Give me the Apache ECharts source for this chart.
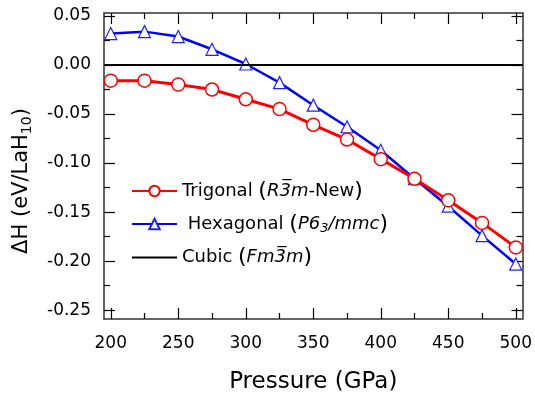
<!DOCTYPE html>
<html><head><meta charset="utf-8">
<script src="https://cdn.jsdelivr.net/npm/echarts@6/dist/echarts.min.js"></script>
<style>html,body{margin:0;padding:0;background:#fff}#c{width:535px;height:399px}</style>
</head><body><div id="c"></div>
<script>
const pressures = [200,225,250,275,300,325,350,375,400,425,450,475,500];
const trigonal = [-0.016,-0.016,-0.020,-0.025,-0.035,-0.045,-0.061,-0.076,-0.096,-0.116,-0.138,-0.161,-0.186];
const hexagonal = [0.032,0.034,0.029,0.016,0.001,-0.018,-0.041,-0.063,-0.087,-0.116,-0.144,-0.174,-0.203];
const cubic = [0,0,0,0,0,0,0,0,0,0,0,0,0];
const xMajorTicks = [200,250,300,350,400,450,500];
const xMinorTicks = [225,275,325,375,425,475];
const yMajorTicks = [-0.25,-0.20,-0.15,-0.10,-0.05,0.00,0.05];
const yMinorTicks = [-0.225,-0.175,-0.125,-0.075,-0.025,0.025];

const FONT = 'DejaVu Sans';
const FRAME = '#333';
function pts(vals){ return pressures.map((p,i)=>[p,vals[i]]); }

function xAx(pos, ticks, len, labels, line){
  return {type:'value', position:pos, min:195, max:505,
    axisLine:{show:line, onZero:false, lineStyle:{color:FRAME, width:1.5}},
    axisTick:{show:true, inside:true, length:len, customValues:ticks, lineStyle:{color:'#000', width:1.2}},
    axisLabel:{show:labels, customValues:ticks, margin:16, fontSize:17, color:'#000', fontFamily:FONT},
    splitLine:{show:false}};
}
function yAx(pos, ticks, len, labels, line){
  return {type:'value', position:pos, min:-0.259, max:0.053,
    axisLine:{show:line, onZero:false, lineStyle:{color:FRAME, width:1.5}},
    axisTick:{show:true, inside:true, length:len, customValues:ticks, lineStyle:{color:'#000', width:1.2}},
    axisLabel:{show:labels, customValues:ticks, margin:13, fontSize:17, color:'#000', fontFamily:FONT,
      formatter:v=>v.toFixed(2)},
    splitLine:{show:false}};
}
const xAxes = [xAx('bottom',xMajorTicks,11,true,true), xAx('bottom',xMinorTicks,6,false,false),
  xAx('top',xMajorTicks,11,false,true), xAx('top',xMinorTicks,6,false,false)];
xAxes[0].name = 'Pressure (GPa)';
xAxes[0].nameLocation = 'middle';
xAxes[0].nameGap = 52;
xAxes[0].nameTextStyle = {fontSize:23, color:'#000', fontFamily:FONT};
const yAxes = [yAx('left',yMajorTicks,11,true,true), yAx('left',yMinorTicks,6,false,false),
  yAx('right',yMajorTicks,11,false,true), yAx('right',yMinorTicks,6,false,false)];
yAxes[0].name = 'ΔH (eV/LaH{sub|10})';
yAxes[0].nameLocation = 'middle';
yAxes[0].nameGap = 70;
yAxes[0].nameTextStyle = {fontSize:21, color:'#000', fontFamily:FONT, padding:[0,30,0,0],
  rich:{sub:{fontSize:14, color:'#000', fontFamily:FONT, padding:[10,0,0,0]}}};

const richLegend = {
  n:{fontSize:18, color:'#000', fontFamily:FONT},
  i:{fontSize:18, color:'#000', fontFamily:FONT, fontStyle:'italic'},
  p:{fontSize:22, color:'#000', fontFamily:FONT},
  s:{fontSize:13, color:'#000', fontFamily:FONT, fontStyle:'italic', padding:[10,0,0,0]}
};
const legendText = {
  'Trigonal': '{n|Trigonal }{p|(}{i|R3\u0305m}{n|-New}{p|)}',
  'Hexagonal': '{n| Hexagonal }{p|(}{i|P6}{s|3}{i|/mmc}{p|)}',
  'Cubic': '{n|Cubic }{p|(}{i|Fm3\u0305m}{p|)}'
};

const chart = echarts.init(document.getElementById('c'));
chart.setOption({
  animation:false,
  grid:{left:104, right:11, top:13, bottom:76, containLabel:false},
  xAxis:xAxes, yAxis:yAxes,
  legend:{orient:'vertical', left:126, top:175, itemGap:11, itemWidth:45, itemHeight:13,
    data:['Trigonal','Hexagonal',{name:'Cubic', itemStyle:{opacity:0}}],
    formatter:name=>legendText[name],
    textStyle:{fontFamily:FONT, fontSize:18, color:'#000', rich:richLegend}},
  series:[
    {name:'Cubic', type:'line', data:pts(cubic), showSymbol:false, symbol:'none',
      lineStyle:{color:'#000', width:2}, z:1,
      markLine:{silent:true, symbol:'none', label:{show:false}, lineStyle:{color:'#000', width:2, type:'solid'},
        data:[{yAxis:0}]}},
    {name:'Hexagonal', type:'line', data:pts(hexagonal), symbol:'triangle', symbolSize:12,
      itemStyle:{color:'#fff', borderColor:'#2020ff', borderWidth:1.2},
      lineStyle:{color:'#0000ff', width:2.5}, z:2},
    {name:'Trigonal', type:'line', data:pts(trigonal), symbol:'circle', symbolSize:13,
      itemStyle:{color:'#fff', borderColor:'#ff0000', borderWidth:1.5},
      lineStyle:{color:'#ff0000', width:3}, z:3}
  ]
});
</script></body></html>
